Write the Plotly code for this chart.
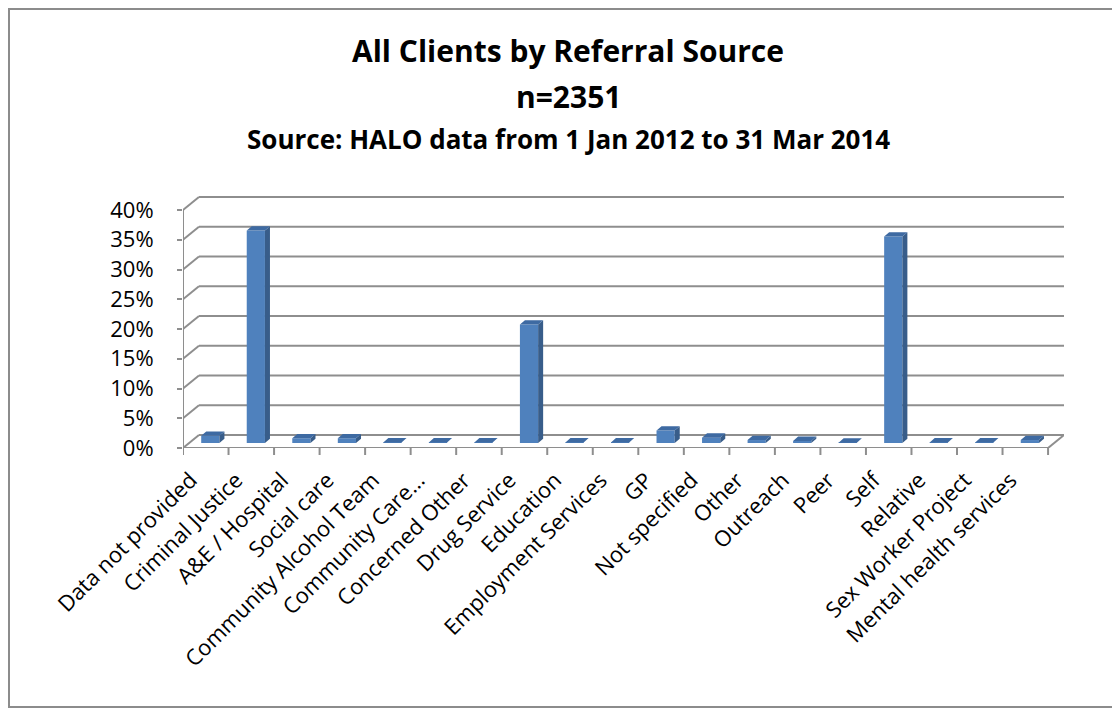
import plotly.graph_objects as go

categories = ["Data not provided", "Criminal Justice", "A&E / Hospital", "Social care",
              "Community Alcohol Team", "Community Care...", "Concerned Other", "Drug Service",
              "Education", "Employment Services", "GP", "Not specified", "Other", "Outreach",
              "Peer", "Self", "Relative", "Sex Worker Project", "Mental health services"]
values = [1.2, 35.7, 0.8, 0.8, 0.1, 0.1, 0.1, 19.9, 0.1, 0.1, 2.1, 0.9, 0.5, 0.35,
          0.05, 34.7, 0.1, 0.1, 0.5]
y_ticks = [0, 5, 10, 15, 20, 25, 30, 35, 40]
y_tick_labels = [f"{v}%" for v in y_ticks]

# layout geometry (pixels); the page places the figure 8px from the window corner
O = 8
W, H = 1120 - O, 710 - O
L, R, T, B = 183 - O, 56, 190 - O, 262
PW, PH = W - L - R, H - T - B
DX, DY = 0.35, 2.18          # 3-D depth offset (x in category units, y in %)
YMAX = PH / 5.95
BAR_W, BAR_SHIFT, BAR_BASE = 0.4, 0.1, 0.84
SX, SY = 0.11, 0.73          # bar side depth

FONT = "'Open Sans', Lato, sans-serif"
GRID = "#8e8e8e"

def xp(px):   # screen px -> paper x
    return (px - O - L) / PW

def yp(px):   # screen px -> paper y
    return (H - B - (px - O)) / PH

n = len(categories)
xs = list(range(n))

fig = go.Figure()

# front faces
fig.add_trace(go.Bar(x=[i + BAR_SHIFT for i in xs], y=values, base=BAR_BASE, width=BAR_W,
                     marker=dict(color="#4F81BD", line=dict(width=0)), hoverinfo="skip"))

# side and top faces
side_x, side_y, top_x, top_y = [], [], [], []
for i, v in zip(xs, values):
    xl = i + BAR_SHIFT - BAR_W / 2
    xr = i + BAR_SHIFT + BAR_W / 2
    b = BAR_BASE
    t = BAR_BASE + v
    side_x += [xr, xr + SX, xr + SX, xr, xr, None]
    side_y += [b, b + SY, t + SY, t, b, None]
    top_x += [xl, xl + SX, xr + SX, xr, xl, None]
    top_y += [t, t + SY, t + SY, t, t, None]
fig.add_trace(go.Scatter(x=side_x, y=side_y, fill="toself", mode="lines",
                         line=dict(width=0, color="#385D8A"), fillcolor="#385D8A",
                         hoverinfo="skip"))
fig.add_trace(go.Scatter(x=top_x, y=top_y, fill="toself", mode="lines",
                         line=dict(width=0, color="#3E6AA2"), fillcolor="#3E6AA2",
                         hoverinfo="skip"))

shapes = []
x_left, x_right = -0.5, n - 0.5
# back wall gridlines and left wall diagonals
for v in y_ticks:
    shapes.append(dict(type="line", xref="x", yref="y", x0=x_left + DX, x1=x_right + DX,
                       y0=v + DY, y1=v + DY, line=dict(color=GRID, width=2), layer="below"))
    shapes.append(dict(type="line", xref="x", yref="y", x0=x_left, x1=x_left + DX,
                       y0=v, y1=v + DY, line=dict(color=GRID, width=2), layer="below"))
# floor front edge and right edge
shapes.append(dict(type="line", xref="x", yref="y", x0=x_left, x1=x_right, y0=0, y1=0,
                   line=dict(color=GRID, width=2), layer="below"))
shapes.append(dict(type="line", xref="x", yref="y", x0=x_right, x1=x_right + DX, y0=0, y1=DY,
                   line=dict(color=GRID, width=2), layer="below"))
# front vertical axis
shapes.append(dict(type="line", xref="x", yref="y", x0=x_left, x1=x_left, y0=0, y1=y_ticks[-1],
                   line=dict(color=GRID, width=2), layer="below"))
# category boundary ticks
for k in range(n + 1):
    shapes.append(dict(type="line", xref="x", yref="paper", x0=x_left + k, x1=x_left + k,
                       y0=0, y1=-7 / PH, line=dict(color=GRID, width=2)))
# outer border
shapes.append(dict(type="rect", xref="paper", yref="paper", x0=xp(9), x1=xp(1140),
                   y0=yp(707), y1=yp(9), line=dict(color="#8c8c8c", width=2)))

annotations = [
    dict(text="<b>All Clients by Referral Source</b>", x=xp(568), y=yp(51), xref="paper",
         yref="paper", showarrow=False, font=dict(family=FONT, size=30, color="black"),
         xanchor="center", yanchor="middle"),
    dict(text="<b>n=2351</b>", x=xp(568), y=yp(96), xref="paper", yref="paper",
         showarrow=False, font=dict(family=FONT, size=30, color="black"),
         xanchor="center", yanchor="middle"),
    dict(text="<b>Source: HALO data from 1 Jan 2012 to 31 Mar 2014</b>", x=xp(568), y=yp(139),
         xref="paper", yref="paper", showarrow=False,
         font=dict(family=FONT, size=26, color="black"), xanchor="center", yanchor="middle"),
]

fig.update_layout(
    width=W, height=H,
    margin=dict(l=L, r=R, t=T, b=B),
    paper_bgcolor="white", plot_bgcolor="white",
    showlegend=False,
    shapes=shapes,
    annotations=annotations,
    font=dict(family=FONT, color="black"),
    xaxis=dict(range=[x_left, x_right + DX], tickmode="array", tickvals=xs,
               ticktext=categories, tickangle=-45, showgrid=False, zeroline=False,
               showline=False, ticks="", ticklabelstandoff=14, ticklabelshift=-15,
               tickfont=dict(family=FONT, size=22, color="black"), fixedrange=True),
    yaxis=dict(range=[0, YMAX], tickmode="array", tickvals=y_ticks, ticktext=y_tick_labels,
               showgrid=False, zeroline=False, showline=False, ticks="outside", ticklen=5,
               tickcolor=GRID, tickwidth=2, ticklabelstandoff=19,
               tickfont=dict(family=FONT, size=22, color="black"), fixedrange=True),
)

fig.write_html("out.html")
